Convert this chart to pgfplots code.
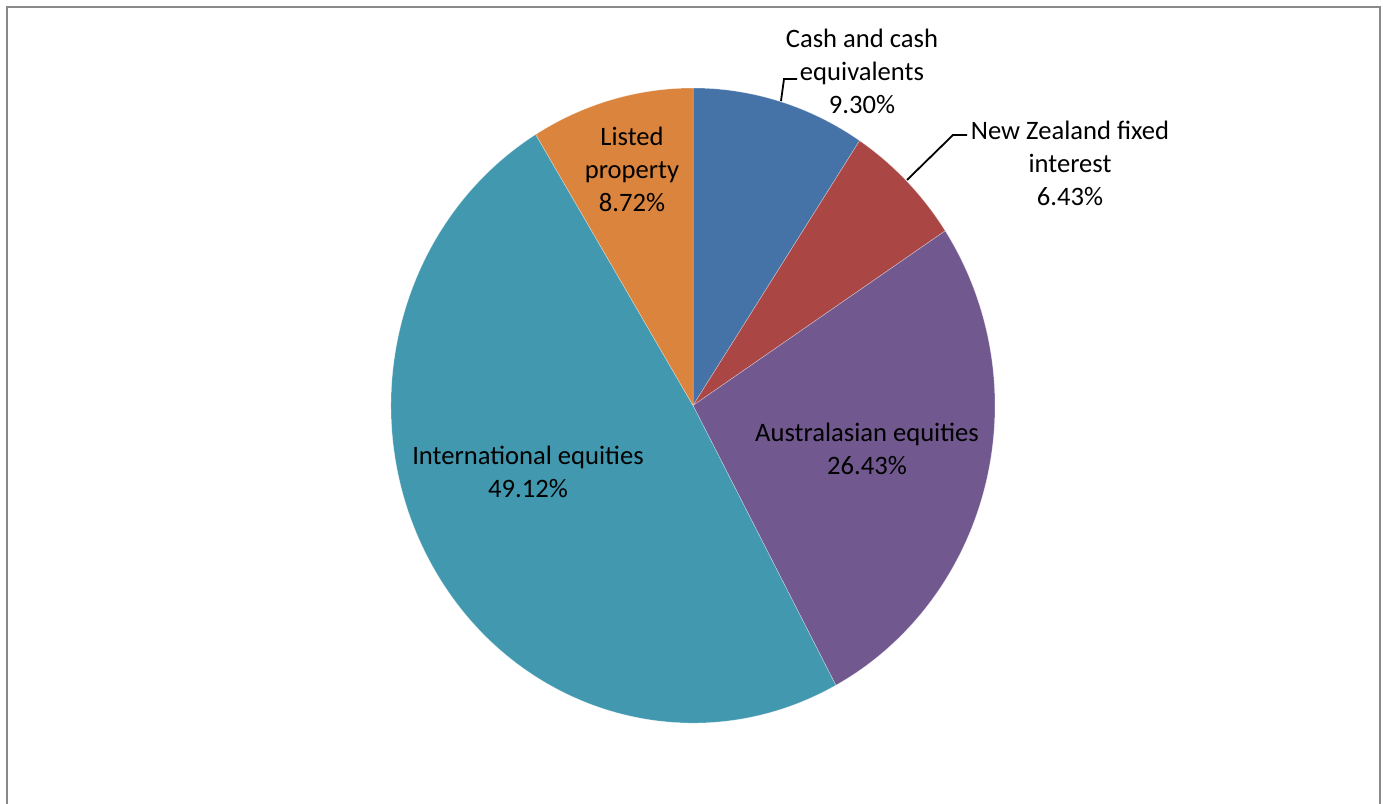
\documentclass[border=0pt]{standalone}
\usepackage{pgfplots}
\usepackage{pgfplotstable}
\pgfplotsset{compat=1.18}
\usepackage{fontspec}
\setmainfont{Carlito}
\definecolor{c0}{HTML}{4572A7}
\definecolor{c1}{HTML}{AA4643}
\definecolor{c2}{HTML}{71588F}
\definecolor{c3}{HTML}{4198AF}
\definecolor{c4}{HTML}{DB843D}
\definecolor{framegray}{HTML}{898989}
\pgfplotstableread{
name value
Cash 9.30
NZ 6.43
Aus 26.43
Intl 49.12
Listed 8.72
}\piedata
\begin{document}
\begin{tikzpicture}
\begin{axis}[at={(0,0)}, anchor=south west, width=691.5pt, height=402pt,
  scale only axis, xmin=0, xmax=1383, ymin=0, ymax=804, hide axis, clip=false]
\def\angA{90}
\pgfplotsforeachungrouped \i in {0,...,4}{%
  \pgfplotstablegetelem{\i}{value}\of\piedata
  \pgfmathsetmacro\angB{\angA-3.6*\pgfplotsretval}%
  \edef\temp{\noexpand\fill[c\i, draw=white, draw opacity=0.45, line width=0.25pt] (axis cs:693,398.5) -- ++(\angA:151pt and 158.75pt) arc[start angle=\angA, end angle=\angB, x radius=151pt, y radius=158.75pt] -- cycle;}%
  \temp
  \global\let\angA\angB
}
\draw[framegray, line width=1pt] (axis cs:7,-20) -- (axis cs:7,797) -- (axis cs:1380,797) -- (axis cs:1380,-20);
\tikzset{lbl/.style={align=center, font=\fontsize{13.3pt}{16.5pt}\selectfont, text=black, inner sep=0pt}}
\node[lbl] at (axis cs:862,733) {Cash and cash\\equivalents\\9.30\%};
\node[lbl] at (axis cs:1070,641) {New Zealand fixed\\interest\\6.43\%};
\node[lbl] at (axis cs:632,635) {Listed\\property\\8.72\%};
\node[lbl] at (axis cs:867,355) {Australasian equities\\26.43\%};
\node[lbl] at (axis cs:528,332) {International equities\\49.12\%};
\draw[black, line width=0.9pt] (axis cs:781,703) -- (axis cs:784,725) -- (axis cs:797,725);
\draw[black, line width=0.9pt] (axis cs:907,624) -- (axis cs:953,669) -- (axis cs:967,669);
\end{axis}
\pgfresetboundingbox
\path (0,0) rectangle (691.5pt,402pt);
\end{tikzpicture}
\end{document}
